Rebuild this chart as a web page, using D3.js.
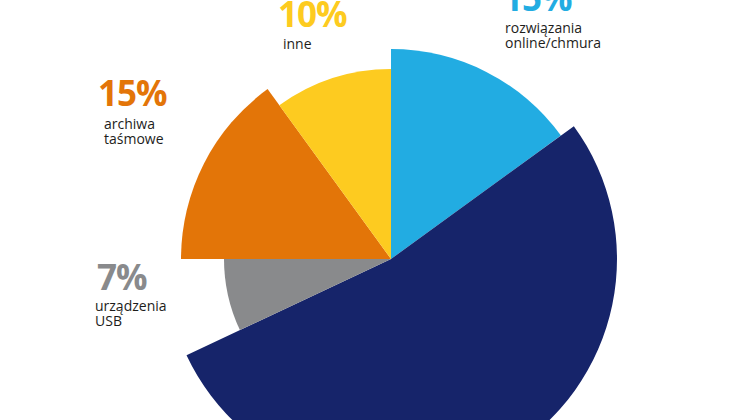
<!DOCTYPE html>
<html>
<head>
<meta charset="utf-8">
<script src="https://cdn.jsdelivr.net/npm/d3@7"></script>
<style>
  body { margin: 0; background: #fff; }
  text { font-family: "Open Sans", sans-serif; }
</style>
</head>
<body>
<div id="chart"></div>
<script>
var svgWidth = 750;
var svgHeight = 420;

// slice data, clockwise from 12 o'clock
var categories = ["rozwiązania online/chmura", "dyski", "urządzenia USB", "archiwa taśmowe", "inne"];
var shares = [15, 53, 7, 15, 10];
var pctLabels = ["15%", "53%", "7%", "15%", "10%"];
var nameLines = [["rozwiązania", "online/chmura"], [], ["urządzenia", "USB"], ["archiwa", "taśmowe"], ["inne"]];

var colors = ["#22ace2", "#16246a", "#898a8c", "#e37508", "#fdcb20"];
// each slice has its own radius
var radii = [210, 226, 167, 210, 190];
var cx = 391, cy = 259;

// where each label block sits (navy label is below the visible area)
var labelPos = [
  { x: 503, y: 11, tx: 505, ty: 33 },
  null,
  { x: 97, y: 290, tx: 95, ty: 311 },
  { x: 98, y: 106, tx: 104, ty: 129 },
  { x: 278, y: 27, tx: 283, ty: 49 }
];

var svg = d3.select("#chart")
  .append("svg")
  .attr("width", svgWidth)
  .attr("height", svgHeight);

var pie = d3.pie()
  .sort(null)
  .value(d => d);

var arcs = pie(shares);

var pieGroup = svg.append("g")
  .attr("transform", `translate(${cx}, ${cy})`);

pieGroup.selectAll("path")
  .data(arcs)
  .enter()
  .append("path")
  .attr("d", (d, i) => d3.arc().innerRadius(0).outerRadius(radii[i])(d))
  .attr("fill", (d, i) => colors[i]);

// labels
var labelGroup = svg.append("g");

shares.forEach(function(s, i) {
  var p = labelPos[i];
  if (!p) return;

  labelGroup.append("text")
    .attr("x", p.x)
    .attr("y", p.y)
    .attr("fill", colors[i])
    .style("font-size", "35px")
    .style("font-weight", "700")
    .style("letter-spacing", "-1px")
    .text(pctLabels[i]);

  nameLines[i].forEach(function(line, j) {
    labelGroup.append("text")
      .attr("x", p.tx)
      .attr("y", p.ty + j * 15)
      .attr("fill", "#1d1d1b")
      .style("font-size", "14px")
      .text(line);
  });
});
</script>
</body>
</html>
